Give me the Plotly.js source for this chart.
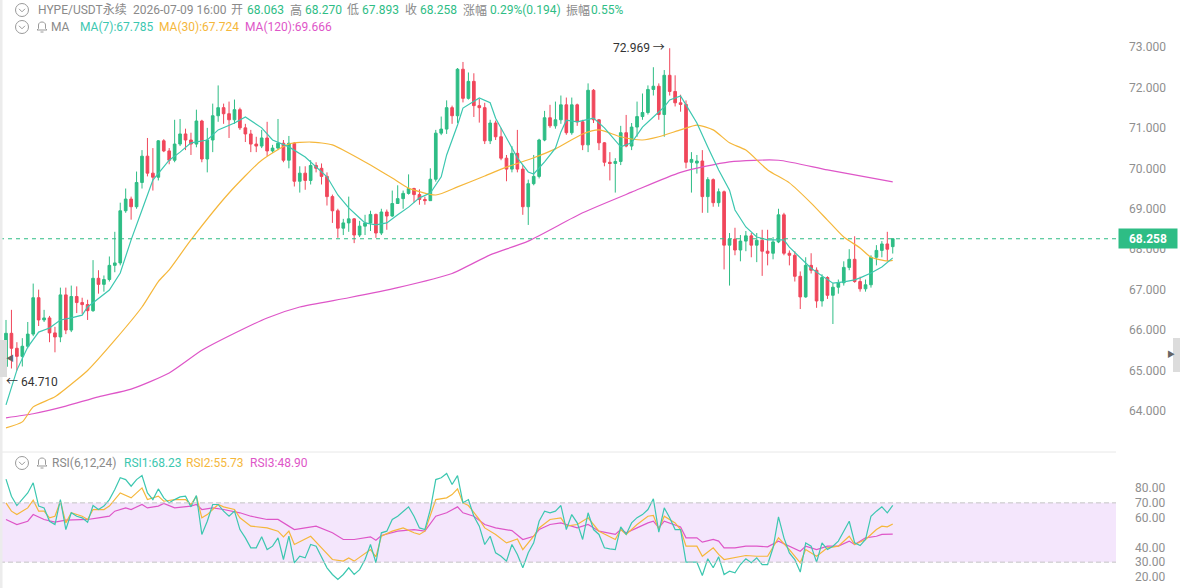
<!DOCTYPE html>
<html>
<head>
<meta charset="utf-8">
<script src="https://cdn.plot.ly/plotly-3.0.1.min.js"></script>
<style>html,body{margin:0;padding:0;background:#fff;}#chart{width:1180px;height:588px;}</style>
</head>
<body>
<div id="chart"></div>
<script>
// ---- Candles (HYPE/USDT perpetual, hourly) ----
const open  = [65.10,65.92,65.55,65.35,65.60,65.90,66.80,66.25,66.30,65.93,65.83,66.87,66.00,66.83,66.68,66.63,66.48,67.28,67.13,67.25,67.60,67.66,68.95,69.24,69.05,69.65,70.30,69.88,69.78,70.68,70.43,70.20,70.60,70.85,70.70,70.60,71.17,70.23,70.70,71.30,71.50,71.35,71.20,71.45,71.00,70.85,70.60,70.55,70.75,70.43,70.50,70.62,70.20,70.62,69.68,69.88,69.70,70.07,70.00,69.80,69.30,68.95,68.52,68.65,68.75,68.35,68.57,68.65,68.86,68.40,68.92,68.82,69.13,69.25,69.38,69.50,69.35,69.23,69.20,69.73,70.87,70.97,71.50,71.30,72.45,71.73,72.15,71.55,71.50,70.68,71.12,70.78,70.25,69.98,70.37,69.98,69.05,69.62,69.80,70.70,71.25,71.05,71.20,71.57,70.88,71.57,71.15,70.58,71.93,71.20,70.63,70.15,70.12,70.17,70.88,70.55,71.02,71.28,71.38,71.95,72.03,71.33,72.30,71.90,71.62,71.58,70.15,70.13,70.18,69.30,69.72,69.15,69.42,68.10,68.25,67.98,68.20,68.33,68.10,68.22,67.95,67.90,68.18,68.85,67.90,67.85,67.33,66.82,67.60,67.48,66.72,67.30,66.86,67.06,67.17,67.55,67.75,67.20,67.02,67.12,67.80,67.97,68.13,68.063];
const high  = [66.25,66.50,65.70,65.80,66.20,67.15,67.00,66.50,66.35,66.08,67.05,67.05,67.10,67.08,66.80,66.75,67.73,67.48,67.35,67.82,68.43,69.15,69.50,69.30,69.92,70.45,70.75,70.50,70.70,70.72,70.50,71.20,71.22,70.98,70.88,71.45,71.20,71.00,71.60,72.05,71.60,71.65,71.70,71.50,71.10,70.95,70.78,70.95,71.15,70.58,71.22,70.70,70.80,70.65,70.05,70.05,70.20,70.15,70.12,69.90,69.35,69.00,68.75,69.30,68.77,68.70,68.85,68.95,68.88,69.00,68.98,69.45,69.58,69.45,69.85,69.52,69.48,69.30,70.00,70.95,71.28,71.68,71.55,72.48,72.63,72.37,72.35,71.72,71.62,71.20,71.18,71.00,70.33,70.55,70.95,70.08,69.72,70.33,70.73,71.42,71.57,71.65,71.80,71.75,71.75,71.60,71.20,72.10,71.96,71.22,70.65,70.40,70.25,71.05,71.32,71.12,71.65,71.85,72.05,72.50,72.10,72.43,72.969,72.30,71.82,71.68,70.40,70.33,70.45,69.78,69.75,69.50,69.45,68.40,68.53,68.35,68.45,68.40,68.40,68.48,68.48,68.30,69.00,68.90,67.97,67.95,67.45,67.80,67.90,67.55,67.38,67.33,67.16,67.25,67.70,68.00,68.32,67.32,67.25,67.85,68.10,68.20,68.43,68.270];
const low   = [65.05,65.05,65.00,65.10,65.55,65.85,66.10,66.20,65.70,65.45,65.70,65.90,65.95,66.42,66.40,66.25,66.45,66.90,66.95,67.20,67.43,67.60,68.90,68.73,69.00,69.50,69.80,69.45,69.70,70.40,70.10,70.15,70.55,70.45,70.33,70.52,70.15,69.90,70.40,71.15,71.10,70.75,71.10,70.95,70.65,70.40,70.40,70.50,70.30,70.38,70.45,70.15,70.00,69.55,69.40,69.47,69.60,69.90,69.60,69.08,68.65,68.28,68.35,68.43,68.15,68.30,68.35,68.45,68.28,68.35,68.48,68.80,69.12,69.00,69.35,69.15,69.10,69.10,69.20,69.67,70.82,70.85,71.10,71.12,71.63,71.70,71.27,71.13,70.60,70.60,70.70,70.20,69.68,69.90,69.90,68.85,68.60,69.58,69.75,70.67,71.00,70.98,71.10,70.83,70.83,71.05,70.45,70.40,71.12,70.45,70.05,69.70,69.40,70.08,70.52,70.45,70.78,71.20,71.33,71.80,71.20,70.78,71.80,71.53,71.40,70.00,69.40,69.87,68.90,68.90,69.05,69.05,67.50,67.10,67.85,67.70,67.95,67.80,67.68,67.34,67.60,67.75,68.15,67.85,67.60,67.20,66.52,66.80,67.40,66.55,66.58,66.77,66.15,66.90,67.10,67.48,67.17,66.95,66.95,67.05,67.60,67.80,67.70,67.893];
const close = [65.92,65.55,65.35,65.60,65.90,66.80,66.25,66.30,65.93,65.83,66.87,66.00,66.83,66.68,66.63,66.48,67.28,67.13,67.25,67.60,67.66,68.95,69.24,69.05,69.65,70.30,69.88,69.78,70.68,70.43,70.20,70.60,70.85,70.70,70.60,71.17,70.23,70.70,71.30,71.50,71.35,71.20,71.45,71.00,70.85,70.60,70.55,70.75,70.43,70.50,70.62,70.20,70.62,69.68,69.88,69.70,70.07,70.00,69.80,69.30,68.95,68.52,68.65,68.75,68.35,68.57,68.65,68.86,68.40,68.92,68.82,69.13,69.25,69.38,69.50,69.35,69.23,69.20,69.73,70.87,70.97,71.50,71.30,72.45,71.73,72.15,71.55,71.50,70.68,71.12,70.78,70.25,69.98,70.37,69.98,69.05,69.62,69.80,70.70,71.25,71.05,71.20,71.57,70.88,71.57,71.15,70.58,71.93,71.20,70.63,70.15,70.12,70.17,70.88,70.55,71.02,71.28,71.38,71.95,72.03,71.33,72.30,71.90,71.62,71.58,70.15,70.22,70.18,69.30,69.72,69.15,69.42,68.10,68.25,67.98,68.20,68.33,68.10,68.22,67.95,67.90,68.18,68.85,67.90,67.85,67.33,66.82,67.60,67.48,66.72,67.30,66.86,67.06,67.17,67.55,67.75,67.20,67.02,67.12,67.80,67.97,68.13,68.00,68.258];

// ---- Moving averages (read at candle indexes) ----
const ma7Idx = [0,2,4,6,8,10,12,14,15,17,19,21,23,25,27,30,32,34,37,39,42,44,47,49,52,55,57,59,61,63,65,66,68,70,72,74,76,78,80,81,83,84,87,89,90,92,94,96,97,99,101,102,103,105,108,110,112,113,115,117,119,121,122,124,125,127,129,131,133,134,136,138,140,143,144,146,148,150,152,154,156,157,159,161,163];
const ma7 = [64.15,65.01,65.58,65.95,66.05,66.25,66.3,66.37,66.57,66.79,66.99,67.41,68.23,68.97,69.71,70.2,70.4,70.63,70.7,70.95,71.12,71.27,71.0,70.7,70.53,70.28,70.03,69.79,69.34,69.02,68.77,68.65,68.6,68.65,68.85,69.04,69.27,69.39,69.79,70.33,71.07,71.49,71.74,71.62,71.24,70.75,70.26,69.91,69.86,70.16,70.5,70.9,71.19,71.15,71.24,71.0,70.7,70.53,70.63,71.02,71.27,71.52,71.69,71.79,71.57,71.12,70.53,69.96,69.46,68.97,68.55,68.3,68.23,68.23,68.05,67.78,67.53,67.34,67.16,67.19,67.24,67.29,67.41,67.56,67.785];
const ma30Idx = [0,3,5,9,13,15,20,25,28,30,34,41,47,52,56,60,63,67,71,74,79,83,88,92,97,101,106,109,113,117,120,124,127,130,133,136,140,144,148,151,154,157,159,162,163];
const ma30 = [63.58,63.73,64.1,64.35,64.77,65.0,65.75,66.57,67.2,67.49,68.23,69.39,70.2,70.6,70.65,70.58,70.38,70.08,69.76,69.51,69.34,69.54,69.81,70.03,70.26,70.48,70.85,70.95,70.78,70.7,70.78,70.95,71.07,70.95,70.63,70.45,69.96,69.64,69.14,68.72,68.3,68.03,67.8,67.71,67.724];
const ma120Idx = [0,5,11,17,23,30,36,42,48,54,63,72,82,89,96,106,115,124,133,142,151,163];
const ma120 = [63.83,63.93,64.12,64.35,64.54,64.94,65.5,65.92,66.3,66.57,66.8,67.05,67.4,67.86,68.2,68.9,69.41,69.9,70.16,70.2,69.96,69.666];

// ---- RSI(6,12,24) ----
const rsi1 = [86,74.5,68.2,72.2,76.7,83.5,67.8,66.6,57.6,55.4,72.2,52,63.3,61,59.9,57,68.2,65.5,67.8,72.2,79,86.9,85.7,81.2,85.7,88.4,76.7,72.2,79.4,73.4,70,72.2,74,74.5,67.3,74.9,48.7,57.6,68.9,68.9,64.4,61,64.4,52,46.4,39.7,39.7,47.1,38.5,40.8,46.4,31.8,47.5,29.6,34,32.9,41.9,40.8,34,26.2,21.7,18.3,21.7,26.2,21.7,25,31.8,41.9,29.6,49.8,50.9,58.8,61,64.4,67.3,61,53.1,52,65.5,85.7,86.9,89.8,82.4,88.4,70,72.2,61,54.3,41.9,47.5,36.3,34,30.7,41.9,35.2,26.2,36.3,43,57.6,64.4,63.3,64.4,68.2,52,62.1,56.5,45.3,63.3,52,48.7,39.7,39,38.5,53.8,48.7,56.5,60,62.1,65.5,72.7,50.2,66.6,59.9,52,52,30,30,30,21,32.3,26.2,33.6,21.7,23.9,22.8,28.4,32.3,29.6,32.9,28.4,28.4,39.7,60.6,46.4,36.3,31.8,23.3,43,40.8,30,43,38.5,40.8,44.2,50.9,57.6,43,41.2,45.3,61,64.4,67.3,63.3,68.23];
const rsi2Idx = [0,1,2,4,5,6,7,8,9,10,11,12,14,15,16,18,19,20,21,23,25,26,28,29,31,33,34,35,36,37,39,40,42,43,45,48,50,51,52,53,55,56,58,60,62,63,64,66,67,68,69,71,73,75,76,77,79,81,82,83,84,85,87,88,90,92,94,95,97,98,100,102,103,105,107,109,112,113,114,116,118,119,120,121,123,124,125,127,128,130,131,132,134,136,138,140,142,144,146,147,149,151,153,155,156,158,160,161,162,163];
const rsi2 = [70,64.4,62.1,66.6,71.8,64.4,64.4,59.9,61,71.1,56.5,63.3,61,58.8,65.5,65.5,67.8,72.2,76.7,73.4,80.1,72.2,74.5,71.1,72.2,72.2,68.9,74.5,59.9,62.1,68.9,67.3,65.5,59.9,54.3,53.1,50.9,47.1,50.9,41.9,45.3,47.5,39.7,31.8,30.7,32.9,30.7,36.3,38.5,33.6,47.5,50.9,53.1,49.8,48.7,50.9,72.2,73.4,75.6,79.4,70,68.2,58.8,53.1,48.7,43,45.7,38.5,47.5,53.1,58.8,59.9,54.3,55.4,59.9,50.9,45.3,52,48.7,55.4,61,61.5,52,61,56.5,52,40.8,40.8,34,39.7,35.2,31.8,32.9,34.5,34,34,46.4,38.5,29.6,38.5,34,39.7,40.8,47.5,41.9,45.3,52,54.3,53.8,55.73];
const rsi3Idx = [0,2,4,5,7,9,11,15,17,19,20,22,23,25,26,28,29,31,34,35,36,38,40,43,45,48,50,52,53,55,57,60,62,64,67,68,69,72,75,77,79,81,83,84,86,88,90,93,95,97,98,100,102,105,107,109,112,113,114,116,118,119,120,121,124,125,127,128,130,131,132,134,136,138,140,142,144,146,147,149,151,153,155,156,158,160,161,163];
const rsi3 = [58.8,55.4,57.6,62.1,58.8,57,58.3,58.8,59.9,61,64.4,66.6,65.5,68.9,66.6,67.8,69.6,66.6,67.8,68.9,65.5,66.6,65.5,63.3,61,58.8,58.8,54.3,52,53.1,54.3,49.8,45.3,45.3,47.1,44.8,48,50.9,52,50.9,61,63.3,67.3,63.3,61,55.4,53.1,51.3,45.3,47.5,52,55.4,56.5,53.1,55.4,50.9,48.7,52,49.8,53.1,56.5,57.6,53.1,57.6,53.8,46.4,46.4,43.5,45.3,44.2,39.7,39.7,40.8,40.8,40.3,44.2,40.8,37.4,40.8,38.5,40.8,40.8,44.2,41.9,46.4,47.5,48.7,48.9];

const priceTicks = [64,65,66,67,68,69,70,71,72,73];
const rsiTicks = [20,30,40,60,70,80];
const lastPrice = 68.258;
const highMark = 72.969, highIdx = 122;
const lowMark = 64.710;

// ---- header texts ----
const header1 = [["HYPE/USDT永续","g"],["2026-07-09 16:00","g"],["开","g"],["68.063","v"],["高","g"],["68.270","v"],["低","g"],["67.893","v"],["收","g"],["68.258","v"],["涨幅","g"],["0.29%(0.194)","v"],["振幅","g"],["0.55%","v"]];
const header2 = [["MA","g"],["MA(7):67.785","a"],["MA(30):67.724","b"],["MA(120):69.666","c"]];
const header3 = [["RSI(6,12,24)","g"],["RSI1:68.23","a"],["RSI2:55.73","b"],["RSI3:48.90","c"]];

// ---- styling ----
const FONT = "Roboto, 'Noto Sans CJK SC', sans-serif";
const COL = {g:"#8a8a8a", v:"#2ebd85", a:"#3cc7b0", b:"#f5b73b", c:"#de56c8"};
const UP = "#2ebd85", DOWN = "#f0475b";
const W = 1116, H = 588;
const px = x => x / W, py = y => 1 - y / H;
const idx = close.map((_, i) => i);

const traces = [
  {type:"candlestick", x:idx, open, high, low, close, xaxis:"x", yaxis:"y",
   increasing:{line:{color:UP, width:1}, fillcolor:UP},
   decreasing:{line:{color:DOWN, width:1}, fillcolor:DOWN},
   whiskerwidth:0, hoverinfo:"skip", showlegend:false},
  {type:"scatter", mode:"lines", x:ma120Idx, y:ma120, line:{color:COL.c, width:1.2, shape:"spline", smoothing:0.6}, yaxis:"y", hoverinfo:"skip"},
  {type:"scatter", mode:"lines", x:ma30Idx, y:ma30, line:{color:COL.b, width:1.2, shape:"spline", smoothing:0.6}, yaxis:"y", hoverinfo:"skip"},
  {type:"scatter", mode:"lines", x:ma7Idx, y:ma7, line:{color:COL.a, width:1.2}, yaxis:"y", hoverinfo:"skip"},
  {type:"scatter", mode:"lines", x:rsi3Idx, y:rsi3, line:{color:COL.c, width:1.2}, yaxis:"y2", hoverinfo:"skip"},
  {type:"scatter", mode:"lines", x:rsi2Idx, y:rsi2, line:{color:COL.b, width:1.2}, yaxis:"y2", hoverinfo:"skip"},
  {type:"scatter", mode:"lines", x:idx, y:rsi1, line:{color:COL.a, width:1.2}, yaxis:"y2", hoverinfo:"skip"}
];

function row(items, xs, y) {
  return items.map((it, k) => ({text: it[0], x: px(xs[k]), y: py(y), xref:"paper", yref:"paper",
    xanchor:"left", yanchor:"middle", showarrow:false, font:{size:12, color:COL[it[1]], family:FONT}}));
}
const annotations = [].concat(
  row(header1, [36,131,229,245,288,303,345,360,403,418,461,488,564,589], 10),
  row(header2, [49,78,157,243], 27),
  row(header3, [50,122,184,248], 463),
  [
    {text: highMark.toFixed(3) + " →", x: highIdx, y: highMark, xref:"x", yref:"y", xanchor:"right", yanchor:"middle", xshift:-3, showarrow:false, font:{size:12, color:"#333", family:FONT}},
    {text: "← " + lowMark.toFixed(3), x: px(4), y: lowMark, xref:"paper", yref:"y", xanchor:"left", yanchor:"middle", showarrow:false, font:{size:12, color:"#333", family:FONT}},
    {text: "<b>" + lastPrice.toFixed(3) + "</b>", x: px(1118), y: lastPrice, xref:"paper", yref:"y", xanchor:"left", yanchor:"middle", showarrow:false,
     bgcolor: UP, width: 52, height: 13, borderpad: 3, align:"center", font:{size:12, color:"#fff", family:FONT}},
    {text: "◀", x: px(3.5), y: py(358), xref:"paper", yref:"paper", showarrow:false, font:{size:8, color:"#666"}},
    {text: "▶", x: px(1176.5), y: py(355), xref:"paper", yref:"paper", showarrow:false, font:{size:8, color:"#666"}}
  ]
);

function circleIcon(cx, cy) {
  return [
    {type:"circle", xref:"paper", yref:"paper", x0:px(cx-6.5), x1:px(cx+6.5), y0:py(cy+6.5), y1:py(cy-6.5), line:{color:"#9a9a9a", width:1}},
    {type:"path", xref:"paper", yref:"paper", path:`M ${px(cx-3)},${py(cy-1.2)} L ${px(cx)},${py(cy+1.8)} L ${px(cx+3)},${py(cy-1.2)}`, line:{color:"#9a9a9a", width:1}}
  ];
}
function bellIcon(cx, cy) {
  return [
    {type:"path", xref:"paper", yref:"paper",
     path:`M ${px(cx-5)},${py(cy+3)} L ${px(cx+5)},${py(cy+3)} L ${px(cx+3.5)},${py(cy+1.5)} L ${px(cx+3.5)},${py(cy-2)} C ${px(cx+3.5)},${py(cy-6)} ${px(cx-3.5)},${py(cy-6)} ${px(cx-3.5)},${py(cy-2)} L ${px(cx-3.5)},${py(cy+1.5)} Z`,
     line:{color:"#9a9a9a", width:1}},
    {type:"line", xref:"paper", yref:"paper", x0:px(cx-1.5), x1:px(cx+1.5), y0:py(cy+5), y1:py(cy+5), line:{color:"#9a9a9a", width:1}}
  ];
}

const shapes = [].concat(
  [
    {type:"rect", xref:"paper", yref:"y2", x0:0, x1:1, y0:30, y1:70, fillcolor:"#f4e6fc", line:{width:0}, layer:"below"},
    {type:"line", xref:"paper", yref:"y2", x0:0, x1:1, y0:70, y1:70, line:{color:"#c4c4c4", width:1, dash:"5px,3px"}},
    {type:"line", xref:"paper", yref:"y2", x0:0, x1:1, y0:30, y1:30, line:{color:"#c4c4c4", width:1, dash:"5px,3px"}},
    {type:"line", xref:"paper", yref:"paper", x0:0, x1:1, y0:py(452), y1:py(452), line:{color:"#e8e8e8", width:1}},
    {type:"line", xref:"paper", yref:"y", x0:0, x1:1, y0:lastPrice, y1:lastPrice, line:{color:UP, width:1, dash:"4px,4px"}},
    {type:"rect", xref:"paper", yref:"paper", x0:0, x1:px(2.5), y0:0, y1:1, fillcolor:"#ececec", line:{width:0}},
    {type:"rect", xref:"paper", yref:"paper", x0:0, x1:px(7), y0:py(377), y1:py(340), fillcolor:"#dcdcdc", line:{width:0}},
    {type:"rect", xref:"paper", yref:"paper", x0:px(1173), x1:px(1180), y0:py(372), y1:py(338), fillcolor:"#dcdcdc", line:{width:0}}
  ],
  circleIcon(22, 10), circleIcon(22, 27), circleIcon(22, 463),
  bellIcon(42, 27), bellIcon(42, 463)
);

const layout = {
  width:1180, height:588, margin:{l:0, r:64, t:0, b:0, pad:0},
  paper_bgcolor:"#fff", plot_bgcolor:"#fff", showlegend:false,
  font:{family:FONT},
  xaxis:{range:[-1.103, 204.04], visible:false, showgrid:false, zeroline:false, rangeslider:{visible:false}, anchor:"y2", fixedrange:true},
  yaxis:{domain:[py(445), py(40)], range:[63.158, 73.173], side:"right", anchor:"x",
    tickvals:priceTicks, tickformat:".3f", ticks:"", ticklabelstandoff:12,
    tickfont:{size:12, color:"#8f8f8f", family:FONT}, showgrid:false, zeroline:false, showline:false, fixedrange:true},
  yaxis2:{domain:[py(586), py(456)], range:[13.93, 101.6], side:"right", anchor:"x",
    tickvals:rsiTicks, tickformat:".2f", ticks:"", ticklabelstandoff:18,
    tickfont:{size:12, color:"#8f8f8f", family:FONT}, showgrid:false, zeroline:false, showline:false, fixedrange:true},
  shapes, annotations
};

Plotly.newPlot("chart", traces, layout, {staticPlot:true, displayModeBar:false});
</script>
</body>
</html>
